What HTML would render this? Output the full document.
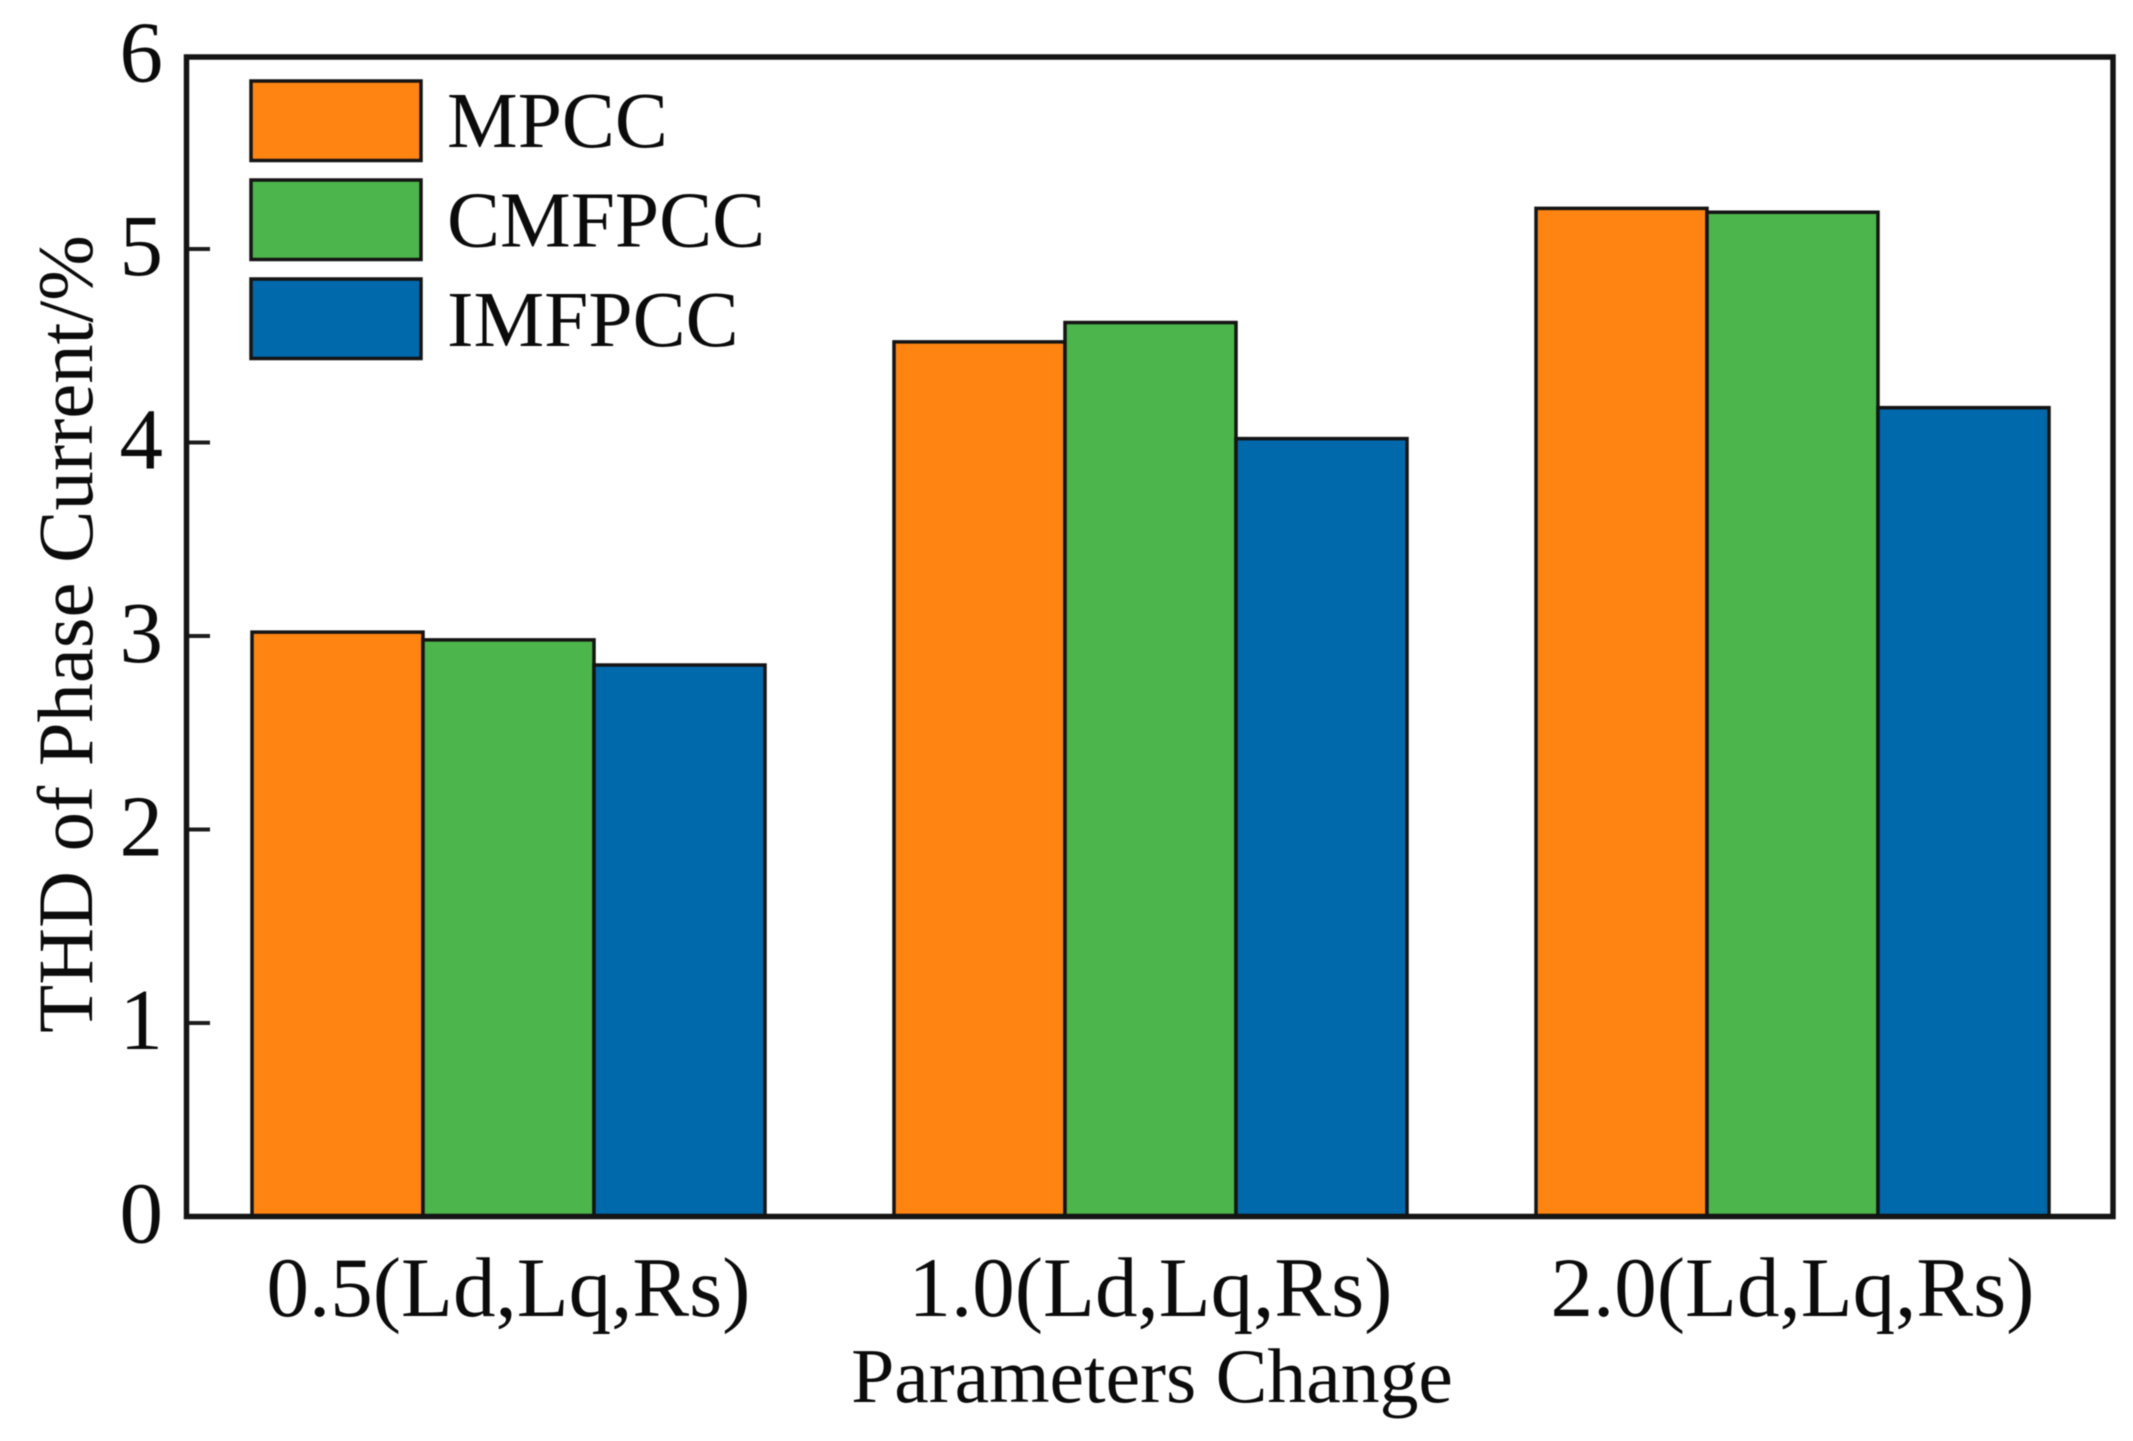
<!DOCTYPE html>
<html lang="en">
<head>
<meta charset="utf-8">
<title>THD of Phase Current</title>
<style>
html,body{margin:0;padding:0;background:#fff;}
svg{display:block;filter:blur(0.5px);}
text{font-family:"Liberation Serif","Times New Roman",serif;fill:#0b0b0b;}
</style>
</head>
<body>
<svg id="chart" xmlns="http://www.w3.org/2000/svg" width="2133" height="1441" viewBox="0 0 2133 1441">
<rect x="0" y="0" width="2133" height="1441" fill="#ffffff"/>
<g id="bars"></g>
<g id="yticks"></g>
<g id="xticks"></g>
<rect x="186.5" y="57" width="1926.5" height="1159.5" fill="none" stroke="#141414" stroke-width="5.5"/>
<g id="legend"></g>
<text x="1152" y="1402" font-size="77.7" text-anchor="middle">Parameters Change</text>
<text transform="translate(92 634) rotate(-90)" font-size="78.7" text-anchor="middle">THD of Phase Current/%</text>
</svg>
<script>
const categories = ['0.5(Ld,Lq,Rs)', '1.0(Ld,Lq,Rs)', '2.0(Ld,Lq,Rs)'];
const seriesNames = ['MPCC', 'CMFPCC', 'IMFPCC'];
const mpccValues = [3.02, 4.52, 5.21];
const cmfpccValues = [2.98, 4.62, 5.19];
const imfpccValues = [2.85, 4.02, 4.18];
const yTickLabels = [0, 1, 2, 3, 4, 5, 6];

const allSeries = [mpccValues, cmfpccValues, imfpccValues];
const seriesColors = ['#ff8411', '#4cb54b', '#0069ac'];
const NS = 'http://www.w3.org/2000/svg';

function yScale(v) { return 1216.5 - 193.5 * v; }
function groupCenter(i) { return 508.5 + 642 * i; }
function barLeft(groupIndex, seriesIndex) { return groupCenter(groupIndex) + (seriesIndex - 1.5) * 171; }

function make(tag, attrs, parent, content) {
  const el = document.createElementNS(NS, tag);
  Object.keys(attrs).forEach(function (k) { el.setAttribute(k, attrs[k]); });
  if (content !== undefined) { el.textContent = content; }
  parent.appendChild(el);
  return el;
}

const barsGroup = document.getElementById('bars');
allSeries.forEach(function (values, s) {
  values.forEach(function (v, g) {
    const bar = make('rect', {
      x: barLeft(g, s), y: yScale(v), width: 171, height: yScale(0) - yScale(v),
      fill: seriesColors[s], stroke: '#141414', 'stroke-width': 3.5
    }, barsGroup);
    
    
  });
});

const yGroup = document.getElementById('yticks');
yTickLabels.forEach(function (t) {
  if (t > 0 && t < 6) {
    const tick = make('line', { x1: 186, x2: 210, y1: yScale(t), y2: yScale(t), stroke: '#1c1c1c', 'stroke-width': 4 }, yGroup);
    
    
  }
  const label = make('text', { x: 163, y: yScale(t) + 26, 'font-size': 87, 'text-anchor': 'end' }, yGroup, String(t));
  
  
});

const xGroup = document.getElementById('xticks');
categories.forEach(function (c, i) {
  const label = make('text', { x: groupCenter(i), y: 1316, 'font-size': 85, 'text-anchor': 'middle' }, xGroup, c);
  
  
});

const legendGroup = document.getElementById('legend');
seriesNames.forEach(function (name, i) {
  const swatch = make('rect', { x: 251, y: 81 + 99 * i, width: 170, height: 79.5, fill: seriesColors[i], stroke: '#141414', 'stroke-width': 3.5 }, legendGroup);
  
  
  const label = make('text', { x: 447, y: 147 + 99.5 * i, 'font-size': 79.5 }, legendGroup, name);
  
  
});
</script>
</body>
</html>
